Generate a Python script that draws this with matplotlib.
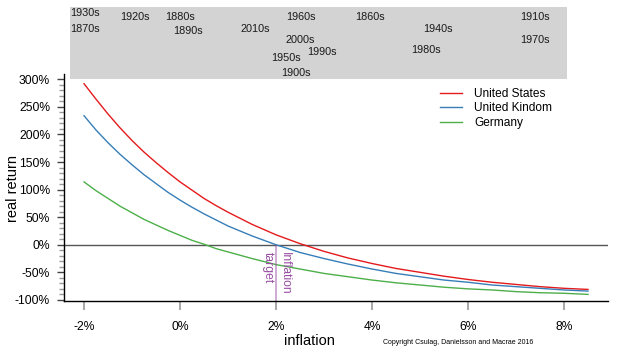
import numpy as np
import matplotlib
matplotlib.use("Agg")
import matplotlib.pyplot as plt
from matplotlib.patches import Rectangle

plt.rcParams['font.family'] = ['Liberation Sans', 'DejaVu Sans']

# inflation (%) and 30-year real return (%)
inflation = [-2, -1.75, -1.5, -1.25, -1, -0.75, -0.5, -0.25, 0, 0.25, 0.5, 0.75,
             1, 1.5, 2, 2.5, 3, 3.5, 4, 4.5, 5, 5.5, 6, 6.5, 7, 7.5, 8, 8.5]
us = [292, 264, 237, 212, 189, 168, 149, 131, 114, 99, 84, 71,
      59, 37, 18, 2, -12, -24, -34, -43, -50, -57, -63, -68, -72, -76, -79, -81]
uk = [234, 208, 185, 164, 145, 127, 111, 95, 81, 68, 56, 45,
      34, 16, 0, -14, -25, -35, -44, -52, -58, -64, -68, -73, -76, -79, -82, -84]
germany = [114, 98, 84, 70, 58, 46, 36, 26, 17, 8, 1, -7,
           -13, -25, -36, -44, -52, -58, -64, -69, -73, -77, -80, -82, -85, -87, -88, -90]
series_names = ['United States', 'United Kindom', 'Germany']
series_colors = ['#E41A1C', '#377EB8', '#4DAF4A']

target = 2

# decade averages shown in the grey band (x = inflation, level = row in band)
decades = ['1930s', '1870s', '1920s', '1880s', '1890s', '2010s', '1960s', '2000s',
           '1990s', '1950s', '1900s', '1860s', '1940s', '1980s', '1910s', '1970s']
decade_infl = [-1.99, -1.99, -0.93, 0.01, 0.17, 1.56, 2.51, 2.51,
               2.96, 2.21, 2.42, 3.96, 5.37, 5.12, 7.40, 7.40]
decade_level = [0.083, 0.31, 0.143, 0.143, 0.333, 0.31, 0.143, 0.458,
                0.625, 0.708, 0.92, 0.143, 0.31, 0.597, 0.143, 0.458]

W, H = 617, 355
fig = plt.figure(figsize=(W / 100, H / 100), dpi=100)

xlim = (-2.417, 8.917)
ax = fig.add_axes([64 / W, 1 - 301 / H, (608 - 64) / W, (301 - 74) / H])
ax.set_xlim(*xlim)
ax.set_ylim(-102, 309.6)
ax.patch.set_alpha(0)

for vals, name, col in zip([us, uk, germany], series_names, series_colors):
    ax.plot(inflation, vals, color=col, lw=1.0, label=name)

ax.axhline(0, color='#555555', lw=1.0, zorder=1)
ax.vlines(target, -102, 0, color='#984EA3', alpha=0.55, lw=1.2)
ax.text(target + 0.07, -13, 'Inflation', rotation=-90, ha='left', va='top',
        color='#984EA3', fontsize=8.7)
ax.text(target - 0.04, -13, 'target', rotation=-90, ha='right', va='top',
        color='#984EA3', fontsize=8.7)

for s in ['top', 'right']:
    ax.spines[s].set_visible(False)
ax.spines['left'].set_linewidth(1.0)
ax.spines['bottom'].set_linewidth(1.0)

ax.set_xticks([-2, 0, 2, 4, 6, 8])
ax.set_xticklabels(['-2%', '0%', '2%', '4%', '6%', '8%'])
ax.set_yticks(np.arange(-100, 301, 50))
ax.set_yticklabels([f'{v}%' for v in range(-100, 301, 50)])
ax.set_yticks(np.arange(-100, 301, 10), minor=True)
ax.tick_params(axis='x', length=6.5, width=1.2, color='#999999', pad=8, labelsize=8.7)
ax.tick_params(axis='y', which='major', length=5, width=1.0, color='#444444', pad=5, labelsize=8.7)
ax.tick_params(axis='y', which='minor', length=3.5, width=1.0, color='#999999')
ax.set_xlabel('inflation', fontsize=10.5)
ax.set_ylabel('real return', fontsize=10.5)
ax.xaxis.set_label_coords((309 - 64) / 544, -(341 - 301) / 227)
ax.yaxis.set_label_coords(-(64 - 13) / 544, (301 - 188) / 227)
ax.xaxis.label.set_va('center')
ax.yaxis.label.set_va('center')

ax.legend(loc='upper left', bbox_to_anchor=(440 / W, 1 - 88 / H),
          bbox_transform=fig.transFigure, frameon=False, fontsize=8.6,
          borderpad=0, borderaxespad=0, handlelength=1.85, handletextpad=1.0,
          labelspacing=0.2)

# grey band with decade averages
band = fig.add_axes([64 / W, 1 - 79 / H, (608 - 64) / W, (79 - 7) / H])
band.set_xlim(*xlim)
band.set_ylim(1, 0)
band.axis('off')
band.add_patch(Rectangle((-2.29, 0), 8.06 + 2.29, 1, facecolor='#D3D3D3',
                         edgecolor='none'))
for lab, xv, lv in zip(decades, decade_infl, decade_level):
    band.text(xv, lv, lab, ha='center', va='center', fontsize=7.8, color='#1a1a1a')

fig.text(533 / W, 1 - 343 / H, 'Copyright Csulag, Danielsson and Macrae 2016',
         ha='right', va='center', fontsize=5)

fig.savefig('out.png', dpi=100)
